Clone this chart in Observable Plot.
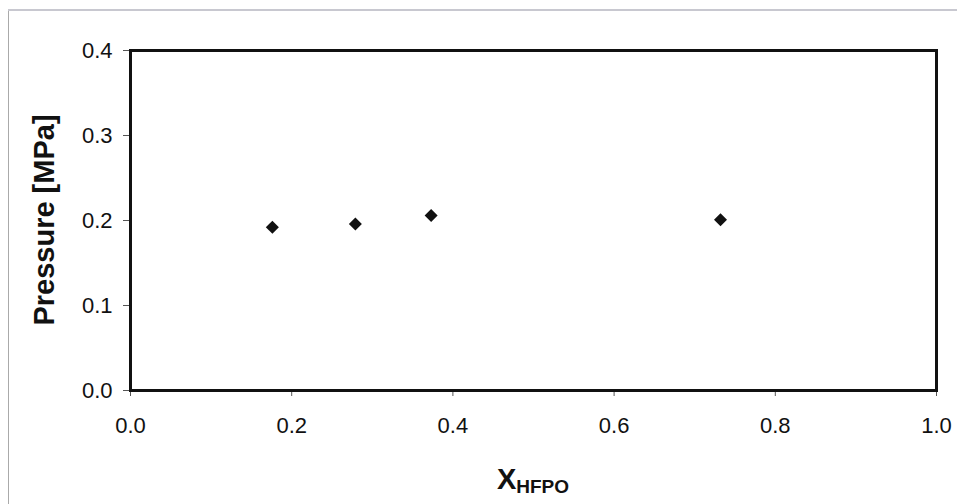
<!DOCTYPE html>
<html>
<head>
<meta charset="utf-8">
<script src="https://cdn.jsdelivr.net/npm/d3@7"></script>
<script src="https://cdn.jsdelivr.net/npm/@observablehq/plot@0.6"></script>
<style>
  html, body { margin: 0; padding: 0; background: #fff; }
  #wrap { position: relative; width: 957px; height: 504px; overflow: hidden; }
  #scanL { position: absolute; left: 8px; top: 10px; width: 0; height: 494px; border-left: 1px solid #aaa; }
  #scanT { position: absolute; left: 8px; top: 9px; width: 949px; height: 0; border-top: 2px solid #c8c8d0; }
</style>
</head>
<body>
<div id="wrap"><div id="scanL"></div><div id="scanT"></div></div>
<script>
const xHFPO = [0.176, 0.279, 0.373, 0.732];
const pressure = [0.192, 0.196, 0.206, 0.201];
const xTicks = [0, 0.2, 0.4, 0.6, 0.8, 1.0];
const yTicks = [0, 0.1, 0.2, 0.3, 0.4];
const yTitle = "Pressure [MPa]";
const xTitleMain = "X";
const xTitleSub = "HFPO";

const data = xHFPO.map((x, i) => ({x, p: pressure[i]}));
const W = 957, H = 504;
const font = "'Liberation Sans', Arial, sans-serif";

const plot = Plot.plot({
  width: W,
  height: H,
  marginLeft: 130,
  marginRight: 21,
  marginTop: 50,
  marginBottom: 114,
  style: {fontFamily: font, fontSize: "22px", background: "transparent", color: "#111"},
  x: {domain: [0, 1], ticks: xTicks},
  y: {domain: [0, 0.4], ticks: yTicks},
  marks: [
    Plot.axisX({ticks: xTicks, tickFormat: d3.format(".1f"), tickSize: 6, tickPadding: 21, label: null, stroke: "#555"}),
    Plot.axisY({ticks: yTicks, tickFormat: d3.format(".1f"), tickSize: 7, tickPadding: 11, label: null, stroke: "#555"}),
    Plot.frame({stroke: "#111", strokeWidth: 3}),
    Plot.dot(data, {x: "x", y: "p", symbol: "square", rotate: 45, r: 5.2, fill: "#111", stroke: "none"})
  ]
});

const svg = d3.select(plot);
svg.style("position", "absolute").style("left", "0px").style("top", "0px");
svg.selectAll("g[aria-label='x-axis tick label'], g[aria-label='y-axis tick label']").style("font-size", "22px");
const xs = plot.scale("x"), ys = plot.scale("y");
const cx = (xs.apply(0) + xs.apply(1)) / 2;
const cy = (ys.apply(0) + ys.apply(0.4)) / 2;

svg.append("text")
  .attr("transform", `translate(54,${cy}) rotate(-90)`)
  .attr("text-anchor", "middle")
  .style("font-family", font)
  .style("font-weight", "bold")
  .style("font-size", "29px")
  .attr("fill", "#111")
  .text(yTitle);

const xt = svg.append("text")
  .attr("x", cx)
  .attr("y", 489)
  .attr("text-anchor", "middle")
  .style("font-family", font)
  .style("font-weight", "bold")
  .attr("fill", "#111");
xt.append("tspan").style("font-size", "29px").text(xTitleMain);
xt.append("tspan").style("font-size", "19px").attr("dy", 4).text(xTitleSub);

document.getElementById("wrap").appendChild(plot);
</script>
</body>
</html>
